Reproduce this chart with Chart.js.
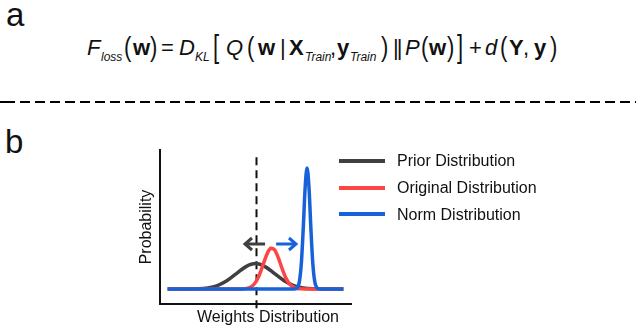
<!DOCTYPE html>
<html>
<head>
<meta charset="utf-8">
<script src="https://cdn.jsdelivr.net/npm/chart.js@4/dist/chart.umd.min.js"></script>
<style>
  body { margin:0; width:636px; height:331px; overflow:hidden; background:#fff; font-family:"Liberation Sans", Arial, sans-serif; color:#111; }
  #chartWrap { position:absolute; left:0; top:0; width:636px; height:331px; }
  .panel { position:absolute; font-size:33px; line-height:33px; }
  #formula span { position:absolute; white-space:nowrap; }
  #formula .m { top:37px; font-size:22px; line-height:22px; }
  #formula .i { font-style:italic; }
  #formula .b { font-weight:bold; }
  #formula .s { top:51px; font-size:12px; line-height:12px; font-style:italic; }
  #formula .p { transform:scaleY(1.25); transform-origin:50% 13px; }
  #formula .br { transform:scaleY(1.4); transform-origin:50% 13px; }
  #formula .dbl { letter-spacing:-2px; }
  .sep { position:absolute; left:0; top:101px; width:636px; height:2px;
         background:repeating-linear-gradient(to right, #000 0 10px, transparent 10px 15px); background-position:5px 0; }
</style>
</head>
<body>
<div class="panel" style="left:6px; top:-2px;">a</div>
<div id="formula">
  <span class="m i" style="left:87px">F</span>
  <span class="s" style="left:101px">loss</span>
  <span class="m p" style="left:124px">(</span>
  <span class="m b" style="left:133px">w</span>
  <span class="m p" style="left:150px">)</span>
  <span class="m" style="left:161px">=</span>
  <span class="m i" style="left:179px">D</span>
  <span class="s" style="left:195px">KL</span>
  <span class="m br" style="left:213px">[</span>
  <span class="m i" style="left:226px">Q</span>
  <span class="m p" style="left:247px">(</span>
  <span class="m b" style="left:258px">w</span>
  <span class="m" style="left:280px">|</span>
  <span class="m b" style="left:289px">X</span>
  <span class="s" style="left:305px">Train</span>
  <span class="m" style="left:330px">,</span>
  <span class="m b" style="left:337px">y</span>
  <span class="s" style="left:350px">Train</span>
  <span class="m p" style="left:381px">)</span>
  <span class="m dbl" style="left:393px">||</span>
  <span class="m i" style="left:405px">P</span>
  <span class="m p" style="left:421px">(</span>
  <span class="m b" style="left:429px">w</span>
  <span class="m p" style="left:447px">)</span>
  <span class="m br" style="left:457px">]</span>
  <span class="m" style="left:469px">+</span>
  <span class="m i" style="left:485px">d</span>
  <span class="m p" style="left:500px">(</span>
  <span class="m b" style="left:509px">Y</span>
  <span class="m" style="left:523px">,</span>
  <span class="m b" style="left:534px">y</span>
  <span class="m p" style="left:550px">)</span>
</div>
<div class="sep"></div>
<div class="panel" style="left:5px; top:125px;">b</div>
<div id="chartWrap"><canvas id="myChart" width="636" height="331"></canvas></div>
<script>
// values (x: weight, y: probability, peak of norm = 1)
let seriesLabels = ['Prior Distribution', 'Original Distribution', 'Norm Distribution'];
let seriesColors = ['#404040', '#ff4444', '#1762d8'];

let priorX = [-4.6, -4, -3.5, -3, -2.5, -2, -1.5, -1, -0.5, 0, 0.5, 1, 1.5, 2, 2.5, 3, 3.5, 4, 4.6];
let priorY = [0, 0, 0.001, 0.002, 0.009, 0.028, 0.068, 0.127, 0.185, 0.21, 0.185, 0.127, 0.068, 0.028, 0.009, 0.002, 0.001, 0, 0];

let originalX = [-4.6, -0.8, -0.6, -0.4, -0.2, 0, 0.2, 0.4, 0.6, 0.8, 1.0, 1.2, 1.4, 1.6, 1.8, 2.0, 2.2, 2.4, 2.6, 4.6];
let originalY = [0, 0, 0.002, 0.007, 0.021, 0.055, 0.116, 0.202, 0.288, 0.337, 0.324, 0.256, 0.166, 0.088, 0.038, 0.014, 0.004, 0.001, 0, 0];

let normX = [-4.6, 1.9, 2.1, 2.2, 2.3, 2.4, 2.5, 2.6, 2.7, 2.8, 2.9, 3.0, 3.1, 3.2, 3.3, 3.5, 4.6];
let normY = [0, 0, 0.002, 0.013, 0.063, 0.211, 0.501, 0.841, 1, 0.841, 0.501, 0.211, 0.063, 0.013, 0.002, 0, 0];

let cutoffX = 0;          // dashed vertical line
let cutoffTop = 1.09;
let arrowY = 0.372;
let priorArrow = [0.50, -0.55];   // from, to (head)
let normArrow = [1.08, 2.12];

function toPoints(xs, ys){
    return xs.map((x, i) => ({x: x, y: ys[i]}));
}

const FONT = '"Liberation Sans", Arial, sans-serif';

function drawArrow(ctx, x1, x2, y, color){
    let dir = x2 > x1 ? 1 : -1;
    ctx.save();
    ctx.strokeStyle = color;
    ctx.lineWidth = 3;
    ctx.lineCap = 'butt';
    ctx.beginPath();
    ctx.moveTo(x1, y);
    ctx.lineTo(x2 - dir * 2, y);
    ctx.stroke();
    ctx.lineJoin = 'miter';
    ctx.beginPath();
    ctx.moveTo(x2 - dir * 7, y - 6);
    ctx.lineTo(x2, y);
    ctx.lineTo(x2 - dir * 7, y + 6);
    ctx.stroke();
    ctx.restore();
}

let extras = {
    id: 'extras',
    beforeDatasetsDraw(chart){
        let ctx = chart.ctx, x = chart.scales.x, y = chart.scales.y;
        let px = Math.round(x.getPixelForValue(cutoffX)) + 0.5;
        ctx.save();
        ctx.strokeStyle = '#111';
        ctx.lineWidth = 2;
        ctx.setLineDash([8, 5]);
        ctx.beginPath();
        ctx.moveTo(px, y.getPixelForValue(cutoffTop));
        ctx.lineTo(px, chart.chartArea.bottom + 6);
        ctx.stroke();
        ctx.restore();
    },
    afterDatasetsDraw(chart){
        let ctx = chart.ctx, x = chart.scales.x, y = chart.scales.y;
        let py = y.getPixelForValue(arrowY);
        drawArrow(ctx, x.getPixelForValue(priorArrow[0]), x.getPixelForValue(priorArrow[1]), py, seriesColors[0]);
        drawArrow(ctx, x.getPixelForValue(normArrow[0]), x.getPixelForValue(normArrow[1]), py, seriesColors[2]);
    },
    afterDraw(chart){
        let ctx = chart.ctx, area = chart.chartArea;
        ctx.save();
        ctx.font = '16px ' + FONT;
        ctx.fillStyle = '#111';
        // axis titles
        ctx.textAlign = 'center';
        ctx.textBaseline = 'alphabetic';
        ctx.fillText('Weights Distribution', area.left + 108, 322);
        ctx.save();
        ctx.translate(151, (area.top + area.bottom) / 2);
        ctx.rotate(-Math.PI / 2);
        ctx.fillText('Probability', 0, 0);
        ctx.restore();
        // legend
        let lineY = [161, 188, 214];
        let textY = [166, 193, 220];
        ctx.textAlign = 'left';
        seriesLabels.forEach((label, i) => {
            ctx.strokeStyle = seriesColors[i];
            ctx.lineWidth = 4;
            ctx.beginPath();
            ctx.moveTo(339, lineY[i]);
            ctx.lineTo(385, lineY[i]);
            ctx.stroke();
            ctx.fillStyle = '#111';
            ctx.fillText(label, 397, textY[i]);
        });
        ctx.restore();
    }
};

let ctx = document.getElementById('myChart').getContext('2d');
let myChart = new Chart(ctx, {
    type: 'line',
    data: {
        datasets: [
            { label: seriesLabels[0], data: toPoints(priorX, priorY), borderColor: seriesColors[0], order: 3 },
            { label: seriesLabels[1], data: toPoints(originalX, originalY), borderColor: seriesColors[1], order: 2 },
            { label: seriesLabels[2], data: toPoints(normX, normY), borderColor: seriesColors[2], order: 1 }
        ]
    },
    options: {
        responsive: false,
        devicePixelRatio: 1,
        animation: false,
        layout: { padding: { left: 160, right: 285, top: 150, bottom: 27 } },
        elements: {
            point: { radius: 0 },
            line: { borderWidth: 3.5, cubicInterpolationMode: 'monotone', fill: false, borderJoinStyle: 'round' }
        },
        plugins: { legend: { display: false }, tooltip: { enabled: false } },
        scales: {
            x: {
                type: 'linear', min: -5, max: 5,
                grid: { display: false },
                ticks: { display: false },
                border: { color: '#111', width: 2 },
                afterFit: (s) => { s.height = 0; }
            },
            y: {
                min: -0.124, max: 1.149,
                grid: { display: false },
                ticks: { display: false },
                border: { color: '#111', width: 2 },
                afterFit: (s) => { s.width = 0; }
            }
        }
    },
    plugins: [extras]
});
</script>
</body>
</html>
